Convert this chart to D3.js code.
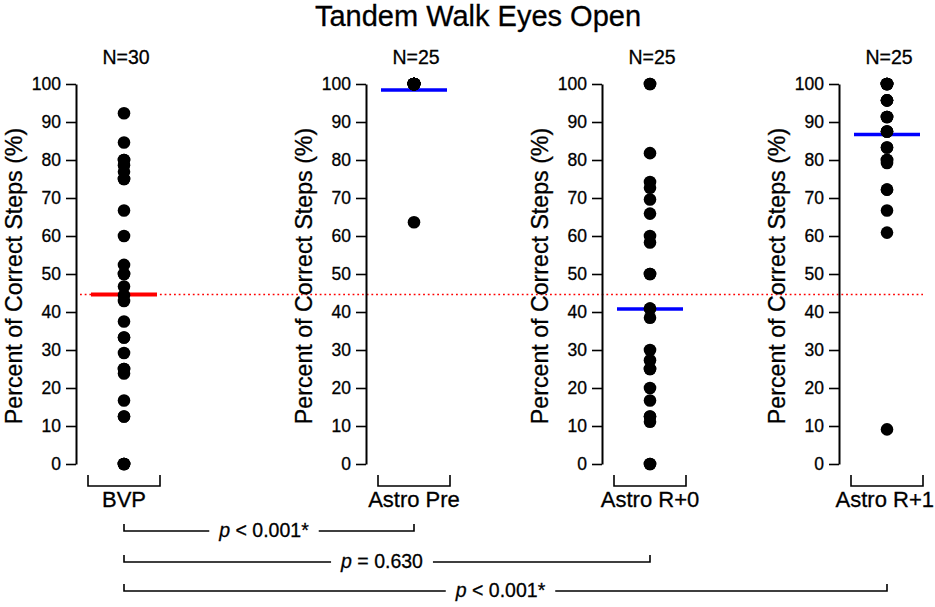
<!DOCTYPE html>
<html>
<head>
<meta charset="utf-8">
<script src="https://cdn.jsdelivr.net/npm/d3@7"></script>
<style>
  html, body { margin: 0; padding: 0; background: #fff; }
  svg { display: block; }
  svg text { stroke: #000; stroke-width: 0.3px; }
</style>
</head>
<body>
<svg id="chart" width="935" height="607"></svg>
<script>
// ---------------- data ----------------
const title = "Tandem Walk Eyes Open";
const groups = ["BVP", "Astro Pre", "Astro R+0", "Astro R+1"];
const nLabels = ["N=30", "N=25", "N=25", "N=25"];
const yAxisTitle = "Percent of Correct Steps (%)";
const yTicks = [0, 10, 20, 30, 40, 50, 60, 70, 80, 90, 100];

const bvpValues = [92.3, 84.6, 80, 80, 78.6, 76.9, 75, 75, 66.7, 60, 52.4, 50, 50,
  46.7, 44.4, 42.9, 37.5, 33.3, 33.3, 29.2, 25, 25, 23.8, 16.7, 12.5, 12.5, 0, 0, 0, 0];
const astroPreValues = [100, 100, 100, 100, 100, 100, 100, 100, 100, 100, 100, 100,
  100, 100, 100, 100, 100, 100, 100, 100, 100, 100, 100, 100, 63.6];
const astroR0Values = [100, 100, 81.8, 74.2, 72.7, 69.6, 65.9, 60, 58.3, 50, 50,
  40.9, 40.9, 38.5, 30, 27.3, 25, 25, 20, 16.7, 12.5, 12.5, 11.1, 0, 0];
const astroR1Values = [100, 100, 100, 100, 100, 100, 95.7, 95.7, 95.7, 91.3, 91.3,
  91.3, 87.5, 87.5, 87.5, 83.3, 83.3, 80, 80, 79.2, 72.2, 72.2, 66.7, 60.9, 9.1];
const groupMeans = [44.6, 98.4, 40.8, 86.7];
const referenceLevel = 44.6;

const comparisonPairs = [[0, 1], [0, 2], [0, 3]];
const comparisonTexts = ["< 0.001*", "= 0.630", "< 0.001*"];

// ---------------- layout / style ----------------
const seriesValues = [bvpValues, astroPreValues, astroR0Values, astroR1Values];
const FONT = "'Liberation Sans', Arial, Helvetica, sans-serif";
const meanColors = ["#ff0000", "#0000ff", "#0000ff", "#0000ff"];
const W = 935;

const svg = d3.select("#chart");
const y = d3.scaleLinear().domain([0, 100]).range([464, 84]);
const xCenter = d3.scaleOrdinal().domain(groups).range([124, 414, 650, 887]);
const axisOffset = 48;

// title
svg.append("text")
  .attr("x", 478).attr("y", 26)
  .attr("text-anchor", "middle")
  .attr("font-family", FONT).attr("font-size", 29)
  .text(title);

// reference dotted line (drawn below marks)
svg.append("line")
  .attr("x1", 80).attr("x2", 923)
  .attr("y1", y(referenceLevel)).attr("y2", y(referenceLevel))
  .attr("stroke", "#ff0000").attr("stroke-width", 1.6)
  .attr("stroke-dasharray", "1.8,2.9");

groups.forEach((g, i) => {
  const cx = xCenter(g);
  const ax = cx - axisOffset;
  const panel = svg.append("g");

  // y axis
  const axis = panel.append("g")
    .attr("transform", `translate(${ax},0)`)
    .call(d3.axisLeft(y).tickValues(yTicks).tickSize(10).tickSizeOuter(0).tickPadding(5));
  axis.select(".domain").attr("stroke", "#000").attr("stroke-width", 2);
  axis.selectAll(".tick line").attr("stroke", "#000").attr("stroke-width", 1.6);
  axis.attr("font-family", FONT).attr("font-size", 17.5);
  axis.selectAll(".tick text").attr("fill", "#000");

  // y axis title
  panel.append("text")
    .attr("transform", `translate(${ax - 54},${(y(0) + y(100)) / 2 + 2}) rotate(-90)`)
    .attr("text-anchor", "middle")
    .attr("font-family", FONT).attr("font-size", 23.2)
    .text(yAxisTitle);

  // N label
  panel.append("text")
    .attr("x", cx + 2).attr("y", 64)
    .attr("text-anchor", "middle")
    .attr("font-family", FONT).attr("font-size", 19.5)
    .text(nLabels[i]);

  // mean line
  panel.append("line")
    .attr("x1", cx - 33).attr("x2", cx + 33)
    .attr("y1", y(groupMeans[i])).attr("y2", y(groupMeans[i]))
    .attr("stroke", meanColors[i]).attr("stroke-width", i === 0 ? 4 : 3.5);

  // points
  panel.selectAll("circle.pt")
    .data(seriesValues[i])
    .join("circle")
    .attr("class", "pt")
    .attr("cx", cx)
    .attr("cy", d => y(d))
    .attr("r", 6.3)
    .attr("fill", "#000");

  // category bracket
  panel.append("path")
    .attr("d", `M${cx - 36},475 V486 H${cx + 36} V475`)
    .attr("fill", "none").attr("stroke", "#000").attr("stroke-width", 1.6);

  const lab = panel.append("text")
    .attr("x", cx).attr("y", 507)
    .attr("text-anchor", "middle")
    .attr("font-family", FONT).attr("font-size", 22)
    .text(g);
  const lw = lab.node().getComputedTextLength();
  if (cx + lw / 2 > W - 1) lab.attr("x", W - 1 - lw / 2);
});

// comparison brackets
const bracketY = [531, 562, 591];
comparisonPairs.forEach((pair, i) => {
  const x1 = xCenter(groups[pair[0]]);
  const x2 = xCenter(groups[pair[1]]);
  const yy = bracketY[i];
  const mid = (x1 + x2) / 2 - 5;
  const t = svg.append("text")
    .attr("x", mid).attr("y", yy + 6)
    .attr("text-anchor", "middle")
    .attr("font-family", FONT).attr("font-size", 19.5);
  t.append("tspan").attr("font-style", "italic").text("p");
  t.append("tspan").text(" " + comparisonTexts[i]);
  const w = t.node().getComputedTextLength();
  const gap = w / 2 + 10;
  svg.append("path")
    .attr("d", `M${x1},${yy - 7} V${yy} H${mid - gap} M${mid + gap},${yy} H${x2} V${yy - 7}`)
    .attr("fill", "none").attr("stroke", "#000").attr("stroke-width", 1.6);
});
</script>
</body>
</html>
